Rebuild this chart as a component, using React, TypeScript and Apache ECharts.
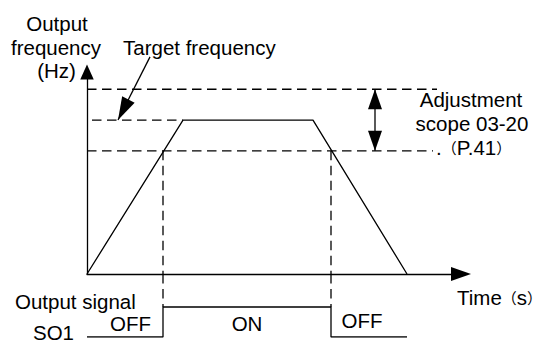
import React, { useEffect, useRef } from "react";
import * as echarts from "echarts";

// ---- data (time in s, frequency in Hz) ----
const freqTimes = [0, 4.8, 11.3, 16];
const freqValues = [0, 50, 50, 0];
const refLevels = [60, 50, 40]; // adjustment upper, target, adjustment lower
const refStarts = [0, 0.25, 0];
const refEnds = [17.5, 4.8, 17.3];
const crossTimes = [3.8, 12.2]; // where frequency crosses the lower level
const crossLevel = 40;
const signalTimes = [0, 3.8, 3.8, 12.2, 12.2, 16];
const signalValues = [0, 0, 1, 1, 0, 0];
const scopeArrow = [14.4, 40, 60]; // time, from, to
const targetPointer = [3.15, 70.5, 1.55, 50]; // tail t, tail Hz, tip t, tip Hz
const xMax = 18.7;
const yMax = 65.6;
const sigMax = 2.1;

const FONT = "'Liberation Sans', Arial, sans-serif";
const CJK = "'Noto Sans CJK SC', sans-serif";
const INK = "#000";
const LW = 1.3;
const DASH = [9.5, 5.5];
const FS = 20.5;

function head(tip: number[], from: number[], len: number, wid: number) {
  const dx = tip[0] - from[0];
  const dy = tip[1] - from[1];
  const d = Math.hypot(dx, dy) || 1;
  const ux = dx / d, uy = dy / d;
  const bx = tip[0] - ux * len, by = tip[1] - uy * len;
  const nx = (-uy * wid) / 2, ny = (ux * wid) / 2;
  return {
    type: "polygon",
    shape: { points: [tip, [bx + nx, by + ny], [bx - nx, by - ny]] },
    style: { fill: INK },
  };
}

function txt(text: string, x: number, y: number, align: string, extra: any = {}) {
  return {
    type: "text",
    x,
    y,
    style: {
      text,
      fontSize: FS,
      fontFamily: FONT,
      fill: INK,
      textAlign: align,
      textVerticalAlign: "middle",
      ...extra,
    },
  };
}

export default function App() {
  const ref = useRef<HTMLDivElement>(null);
  useEffect(() => {
    if (!ref.current) return;
    const chart = echarts.init(ref.current, undefined, { renderer: "svg" });
    const dashLine = (data: number[][], xi = 0) => ({
      type: "line",
      xAxisIndex: xi,
      yAxisIndex: xi,
      data,
      symbol: "none",
      silent: true,
      lineStyle: { color: INK, width: LW, type: DASH },
    });
    const series: any[] = [];
    refLevels.forEach((lv, i) => {
      series.push(dashLine([[refStarts[i], lv], [refEnds[i], lv]]));
    });
    crossTimes.forEach((t) => {
      series.push(dashLine([[t, crossLevel], [t, 0]]));
      series.push(dashLine([[t, sigMax], [t, 1]], 1));
    });
    series.push({
      type: "line",
      data: freqTimes.map((t, i) => [t, freqValues[i]]),
      symbol: "none",
      silent: true,
      lineStyle: { color: INK, width: LW },
    });
    series.push({
      type: "line",
      xAxisIndex: 1,
      yAxisIndex: 1,
      data: signalTimes.map((t, i) => [t, signalValues[i]]),
      symbol: "none",
      silent: true,
      lineStyle: { color: INK, width: LW },
    });
    series.push({
      type: "custom",
      silent: true,
      clip: false,
      data: [scopeArrow],
      renderItem: (params: any, api: any) => {
        const t = api.value(0);
        const a = api.coord([t, api.value(1)]);
        const b = api.coord([t, api.value(2)]);
        return {
          type: "group",
          children: [
            { type: "line", shape: { x1: a[0], y1: a[1], x2: b[0], y2: b[1] }, style: { stroke: INK, lineWidth: LW } },
            head(b, a, 20, 14),
            head(a, b, 20, 14),
          ],
        };
      },
    });
    series.push({
      type: "custom",
      silent: true,
      clip: false,
      data: [targetPointer],
      renderItem: (params: any, api: any) => {
        const tail = api.coord([api.value(0), api.value(1)]);
        const tip = api.coord([api.value(2), api.value(3)]);
        return {
          type: "group",
          children: [
            { type: "line", shape: { x1: tail[0], y1: tail[1], x2: tip[0], y2: tip[1] }, style: { stroke: INK, lineWidth: LW } },
            head(tip, tail, 23, 14),
          ],
        };
      },
    });

    const paren = { fontFamily: CJK, fontSize: 15, fill: INK };
    const base = { fontFamily: FONT, fontSize: FS, fill: INK };

    chart.setOption({
      animation: false,
      backgroundColor: "#fff",
      grid: [
        { left: 87, right: 80, top: 72, bottom: 69, containLabel: false, outerBoundsMode: "none" },
        { left: 87, right: 80, top: 274, bottom: 6, containLabel: false, outerBoundsMode: "none" },
      ],
      xAxis: [
        {
          type: "value",
          gridIndex: 0,
          min: 0,
          max: xMax,
          axisLine: { show: true, onZero: true, symbol: ["none", "triangle"], symbolSize: [14, 20], lineStyle: { color: INK, width: LW } },
          axisTick: { show: false },
          axisLabel: { show: false },
          splitLine: { show: false },
        },
        { type: "value", gridIndex: 1, min: 0, max: xMax, show: false },
      ],
      yAxis: [
        {
          type: "value",
          gridIndex: 0,
          min: 0,
          max: yMax,
          axisLine: { show: true, symbol: ["none", "triangle"], symbolSize: [13.5, 15], lineStyle: { color: INK, width: LW } },
          axisTick: { show: false },
          axisLabel: { show: false },
          splitLine: { show: false },
        },
        { type: "value", gridIndex: 1, min: 0, max: sigMax, show: false },
      ],
      series,
      graphic: [
        txt("Output", 57, 23, "center"),
        txt("frequency", 56, 47, "center"),
        txt("(Hz)", 56.5, 70, "center"),
        txt("Target frequency", 123, 47, "left"),
        txt("Adjustment", 471, 99.5, "center"),
        txt("scope 03-20", 472, 123.5, "center"),
        txt("{b|.}{p|（}{b|P.41}{p|）}", 436, 147, "left", { rich: { b: base, p: paren } }),
        txt("{b|Time}{p|（}{b|s}{p|）}", 457, 297, "left", { rich: { b: base, p: paren } }),
        txt("Output signal", 15, 301, "left"),
        txt("OFF", 130.5, 323, "center"),
        txt("ON", 247, 323, "center"),
        txt("OFF", 362, 320.5, "center"),
        txt("SO1", 53.5, 332, "center"),
      ],
    });
    return () => chart.dispose();
  }, []);
  return (
    <div
      ref={ref}
      style={{ position: "fixed", left: 0, top: 0, width: 541, height: 343, background: "#fff" }}
    />
  );
}
